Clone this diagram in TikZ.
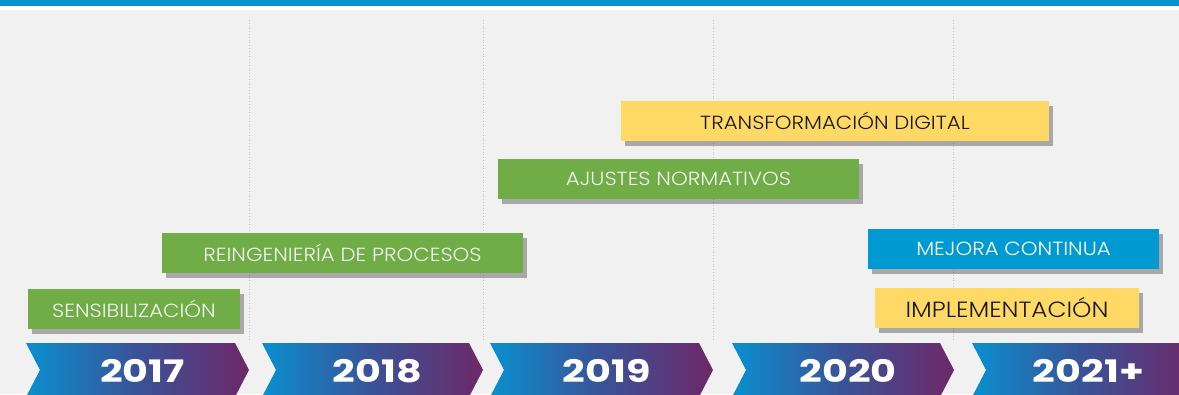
\documentclass[tikz,border=0pt]{standalone}
\usepackage{fontspec}
\setmainfont{Poppins}
\newfontfamily\lightfont{Poppins Light}[FakeStretch=1.12]
\newfontfamily\yearfont{Poppins Bold}[FakeStretch=1.28]
\usepackage{xcolor}
\usetikzlibrary{shadows}

\definecolor{bgGray}{HTML}{F1F1F1}
\definecolor{topBlue}{HTML}{0093C9}
\definecolor{phaseGreen}{HTML}{70AD47}
\definecolor{phaseYellow}{HTML}{FFD966}
\definecolor{phaseBlue}{HTML}{009AD2}
\definecolor{chevLeft}{HTML}{0A8FCF}
\definecolor{chevMid}{HTML}{3A5297}
\definecolor{chevRight}{HTML}{6E2868}

\tikzset{
  phase/.style={minimum height=40pt, inner sep=0pt,
    drop shadow={shadow xshift=4pt, shadow yshift=-5pt, fill=black, opacity=0.3}},
  greenphase/.style={phase, fill=phaseGreen, text=white!95!black,
    font=\lightfont\fontsize{19}{19}\selectfont},
  bluephase/.style={phase, fill=phaseBlue, text=white,
    font=\lightfont\fontsize{19}{19}\selectfont},
  yellowphase/.style={phase, fill=phaseYellow, text=black!90,
    font=\lightfont\fontsize{19}{19}\selectfont},
  gridline/.style={dotted, line width=0.8pt, color=black!22},
  yearlabel/.style={text=white, font=\yearfont\fontsize{31}{31}\selectfont}
}

\begin{document}
\begin{tikzpicture}[x=1pt, y=-1pt]
\useasboundingbox (0,0) rectangle (1179,394);
\fill[white] (0,0) rectangle (1179,394);
\fill[bgGray] (0,10) rectangle (1179,394);
\fill[topBlue] (0,0) rectangle (1179,6);

\foreach \gx in {249,483,713,953}
  \draw[gridline] (\gx,20) -- (\gx,342);

\foreach \xa/\xb/\yr [count=\k] in {26/249/2017, 262/483/2018, 490/713/2019, 732/954/2020, 972/1195/2021+}{
  \shade[left color=chevLeft, right color=chevRight, middle color=chevMid]
    (\xa,343) -- (\xb-14,343) -- (\xb,370) -- (\xb-14,397) -- (\xa,397) -- (\xa+14,370) -- cycle;
  \node[yearlabel] (year\k) at ({(\xa+\xb)/2+5},371) {\yr};
}

\node[greenphase, minimum width=212pt] (sens) at (134,309) {SENSIBILIZACIÓN};
\node[greenphase, minimum width=361pt] (reing) at (342.5,253) {REINGENIERÍA DE PROCESOS};
\node[greenphase, minimum width=361pt] (ajust) at (678.5,179) {AJUSTES NORMATIVOS};
\node[yellowphase, minimum width=428pt] (transf) at (835,121) {TRANSFORMACIÓN DIGITAL};
\node[bluephase, minimum width=291pt] (mejora) at (1013.5,249) {MEJORA CONTINUA};
\node[yellowphase, minimum width=264pt, font=\lightfont\fontsize{22}{22}\selectfont] (impl) at (1007,308) {IMPLEMENTACIÓN};

\end{tikzpicture}
\end{document}
